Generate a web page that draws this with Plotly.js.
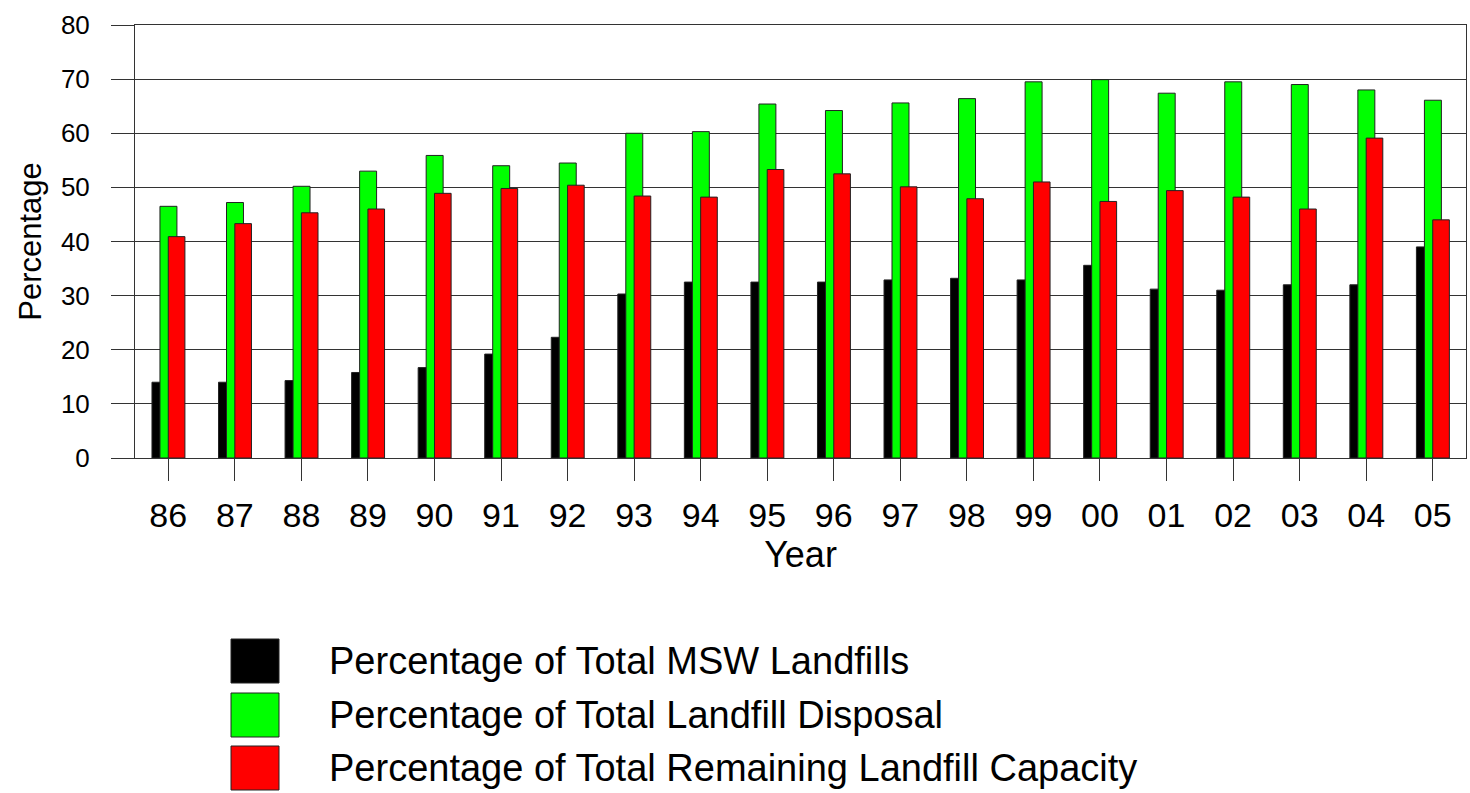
<!DOCTYPE html>
<html>
<head>
<meta charset="utf-8">
<script src="https://cdn.plot.ly/plotly-3.0.1.min.js"></script>
<style>html,body{margin:0;padding:0;background:#fff;}#chart{width:1470px;height:793px;}</style>
</head>
<body>
<div id="chart"></div>
<script>
const years = ["86","87","88","89","90","91","92","93","94","95","96","97","98","99","00","01","02","03","04","05"];
const mswLandfills = [14.0,14.0,14.3,15.8,16.7,19.2,22.3,30.3,32.5,32.5,32.5,32.9,33.2,32.9,35.6,31.2,31.0,32.0,32.0,39.0];
const landfillDisposal = [46.5,47.2,50.2,53.0,55.9,54.0,54.5,60.0,60.3,65.4,64.2,65.6,66.4,69.5,69.9,67.4,69.5,69.0,68.0,66.1];
const remainingCapacity = [40.9,43.3,45.3,46.0,48.9,49.8,50.4,48.4,48.2,53.3,52.5,50.1,47.9,51.0,47.4,49.4,48.2,46.0,59.1,44.0];
const seriesNames = ["Percentage of Total MSW Landfills","Percentage of Total Landfill Disposal","Percentage of Total Remaining Landfill Capacity"];
const seriesColors = ["#000000","#00ff00","#ff0000"];
const yTicks = [0,10,20,30,40,50,60,70,80];

const seriesValues = [mswLandfills, landfillDisposal, remainingCapacity];
const offsets = [-0.245, -0.125, 0.0];
const widths = [0.245, 0.255, 0.25];

const traces = seriesValues.map((vals, i) => ({
  type: 'bar',
  name: seriesNames[i],
  x: years,
  y: vals,
  offset: offsets[i],
  width: widths[i],
  marker: {color: seriesColors[i], line: {color: '#222', width: 1}},
  showlegend: false,
  hoverinfo: 'x+y'
}));

const font = 'Liberation Sans, Arial, sans-serif';
const shapes = [];
const annotations = [];
const legendTop = [639, 693, 746];
seriesNames.forEach((n, i) => {
  shapes.push({type: 'rect', xref: 'paper', yref: 'paper',
    x0: (231 - 135) / 1331, x1: (279 - 135) / 1331,
    y0: (458 - (legendTop[i] + 44)) / 433, y1: (458 - legendTop[i]) / 433,
    fillcolor: seriesColors[i], line: {color: '#222', width: 1}});
  annotations.push({xref: 'paper', yref: 'paper', x: (327 - 135) / 1331, y: (458 - (legendTop[i] + 22)) / 433,
    xanchor: 'left', yanchor: 'middle', showarrow: false, text: n,
    font: {family: font, size: 38, color: '#000'}});
});

const layout = {
  width: 1470, height: 793,
  margin: {l: 135, r: 4, t: 25, b: 335},
  paper_bgcolor: '#fff', plot_bgcolor: '#fff',
  barmode: 'overlay',
  font: {family: font, color: '#000'},
  xaxis: {
    type: 'category', range: [-0.5, 19.5],
    showgrid: false, zeroline: false,
    showline: true, linecolor: '#333', linewidth: 1, mirror: true,
    ticks: 'outside', ticklen: 22, tickcolor: '#333', tickwidth: 1,
    ticklabelstandoff: 5,
    tickfont: {family: font, size: 34, color: '#000'},
    title: {text: 'Year', font: {family: font, size: 36, color: '#000'}, standoff: 6},
    automargin: false, fixedrange: true
  },
  yaxis: {
    range: [0, 80], tickvals: yTicks, ticktext: yTicks.map(String),
    showgrid: true, gridcolor: '#333', gridwidth: 1, zeroline: false,
    showline: true, linecolor: '#333', linewidth: 1, mirror: true,
    ticks: 'outside', ticklen: 23, tickcolor: '#333', tickwidth: 1,
    ticklabelstandoff: 16,
    tickfont: {family: font, size: 26, color: '#000'},
    title: {text: 'Percentage', font: {family: font, size: 31, color: '#000'}, standoff: 10},
    automargin: false, fixedrange: true
  },
  shapes: shapes,
  annotations: annotations,
  showlegend: false
};

Plotly.newPlot('chart', traces, layout, {displayModeBar: false, staticPlot: true});
</script>
</body>
</html>
